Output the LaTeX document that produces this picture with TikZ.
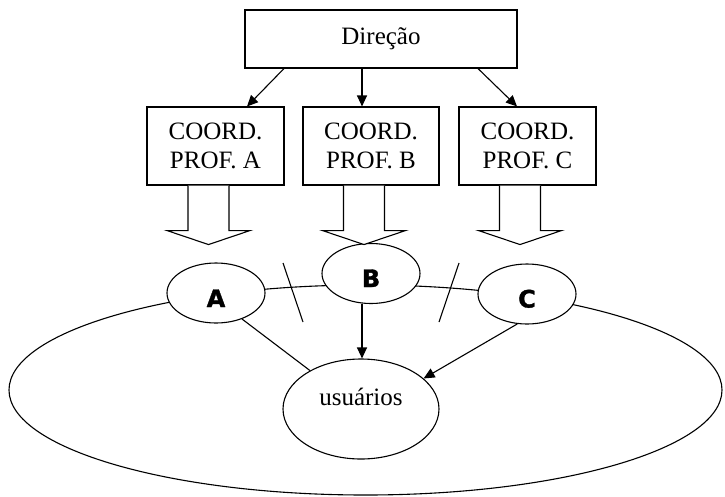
\documentclass[tikz,border=0pt]{standalone}
\usepackage{fontspec}
\setmainfont{Liberation Serif}
\newfontfamily\letterfont{DejaVu Sans}[BoldFeatures={FakeBold=1.5}]
\usetikzlibrary{arrows.meta,shapes.geometric}
\begin{document}
\begin{tikzpicture}[x=1pt,y=-1pt, line width=1.1pt,
 box/.style={draw, rectangle, inner sep=0pt, font=\fontsize{25}{28.5}\selectfont, align=center},
 ell/.style={draw, ellipse, inner sep=0pt, fill=white},
 arr/.style={-{Triangle[length=11pt,width=10pt]}},
 letter/.style={font=\letterfont\bfseries\fontsize{24}{24}\selectfont},
 bigarrow/.pic={\draw[fill=white, line join=miter] (-20.5,0) -- (-20.5,45) -- (-41.5,45) -- (0,59) -- (41.5,45) -- (20.5,45) -- (20.5,0);}
]
\useasboundingbox (0,0) rectangle (725,496);
% boxes
\node[box, minimum width=272pt, minimum height=58pt] (dir) at (381,39) {Direção};
\node[box, minimum width=137pt, minimum height=78pt] (ca) at (215.5,146) {COORD.\\PROF. A};
\node[box, minimum width=136pt, minimum height=78pt] (cb) at (371,146) {COORD.\\PROF. B};
\node[box, minimum width=137pt, minimum height=78pt] (cc) at (527.5,146) {COORD.\\PROF. C};
% big ellipse
\node[draw, ellipse, inner sep=0pt, minimum width=713pt, minimum height=210pt] (campus) at (365.5,390) {};
% small ellipses
\node[ell, letter, minimum width=98pt, minimum height=60pt] (A) at (216,293) {\raisebox{-14pt}[0pt][0pt]{A}};
\node[ell, letter, minimum width=98pt, minimum height=60pt] (B) at (371,273.5) {\raisebox{-13.5pt}[0pt][0pt]{B}};
\node[ell, letter, minimum width=98pt, minimum height=60pt] (C) at (527,294) {\raisebox{-13.5pt}[0pt][0pt]{C}};
\node[draw, ellipse, inner sep=0pt, minimum width=156pt, minimum height=100pt, font=\fontsize{25}{28.5}\selectfont] (us) at (361,409) {\raisebox{4pt}[0pt][0pt]{usuários}};
% slashes
\coordinate (s1a) at (283,263); \coordinate (s1b) at (303,322);
\coordinate (s2a) at (459,263); \coordinate (s2b) at (439,322);
\draw (s1a) -- (s1b);
\draw (s2a) -- (s2b);
% block arrows
\pic at ([xshift=-7pt]ca.south) {bigarrow};
\pic at ([xshift=-7pt]cb.south) {bigarrow};
\pic at ([xshift=-7.5pt]cc.south) {bigarrow};
% connectors
\draw[arr] ([xshift=-97pt]dir.south) -- ([xshift=31.5pt]ca.north);
\draw[arr] ([xshift=-19pt]dir.south) -- ([xshift=-9pt]cb.north);
\draw[arr] ([xshift=97pt]dir.south) -- ([xshift=-10.5pt]cc.north);
\draw (A.-45) -- (us.143);
\draw[arr] ([xshift=-9pt]B.south) -- ([xshift=-9pt]B.south |- us.north);
\draw[arr] (C.252) -- (us.26);
\end{tikzpicture}
\end{document}
